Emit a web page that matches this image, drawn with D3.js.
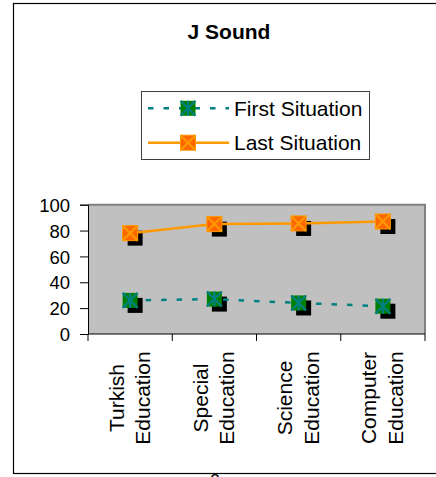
<!DOCTYPE html>
<html><head><meta charset="utf-8">
<script src="https://cdn.jsdelivr.net/npm/d3@7"></script>
<style>body{margin:0;background:#fff;overflow:hidden}svg{display:block;font-family:"Liberation Sans",Arial,sans-serif}</style>
</head><body>
<svg id="c" width="436" height="477"></svg>
<script>
const categories = [["Turkish","Education"],["Special","Education"],["Science","Education"],["Computer","Education"]];
const catKeys = categories.map(c => c.join(" "));
const firstSituation = [26, 27, 24, 21.5];
const lastSituation = [78, 85, 85.5, 87];
const yTicks = [0, 20, 40, 60, 80, 100];
const seriesNames = ["First Situation", "Last Situation"];

const svg = d3.select("#c");
// outer frame
svg.append("rect").attr("x",13.5).attr("y",3.5).attr("width",440).attr("height",470)
  .attr("fill","#fff").attr("stroke","#000").attr("stroke-width",1.2);
// page number peeking below the frame
svg.append("text").attr("x",215).attr("y",486).attr("text-anchor","middle").attr("font-size",17).text("2");

svg.append("text").attr("x",229).attr("y",38.5).attr("text-anchor","middle")
  .attr("font-weight","bold").attr("font-size",21).text("J Sound");

const L=88, R=425, T=204.7, B=334;
const x = d3.scaleBand().domain(catKeys).range([L,R]);
const y = d3.scaleLinear().domain([0,100]).range([B,T]);

svg.append("rect").attr("x",L).attr("y",T).attr("width",R-L).attr("height",B-T).attr("fill","#c0c0c0");
svg.append("path").attr("d",`M${L},${T}H${R}V${B}`).attr("fill","none").attr("stroke","#808080").attr("stroke-width",2);

// y axis
const yAxis = svg.append("g").attr("transform",`translate(${L},0)`)
  .call(d3.axisLeft(y).tickValues(yTicks).tickSize(8).tickPadding(10));
yAxis.select(".domain").attr("stroke","#000");
yAxis.selectAll("text").attr("font-size",18.5).attr("font-family","Liberation Sans, Arial, sans-serif").attr("fill","#000").attr("dy","0.36em");
yAxis.selectAll("line").attr("stroke","#000");

// x axis line and ticks at band boundaries
const bounds = catKeys.map(k => x(k)).concat([R]);
svg.append("line").attr("x1",L).attr("x2",R).attr("y1",B).attr("y2",B).attr("stroke","#000");
svg.selectAll(".xt").data(bounds).join("line").attr("x1",d=>d).attr("x2",d=>d)
  .attr("y1",B).attr("y2",B+7).attr("stroke","#000");

// category labels
categories.forEach((c,i) => {
  const cx = x(catKeys[i]) + x.bandwidth()/2;
  const g = svg.append("g").attr("transform",`translate(${cx},398) rotate(-90)`);
  c.forEach((line,j) => {
    g.append("text").attr("x",0).attr("y",[-6.5,20][j]).attr("text-anchor","middle")
      .attr("font-size",21).text(line);
  });
});

const cxOf = i => x(catKeys[i]) + x.bandwidth()/2;
const lineGen = d3.line().x((d,i)=>cxOf(i)).y(d=>y(d));

const S = 15;
function markerFirst(g, cx, cy) {
  g.append("rect").attr("x",cx-S/2).attr("y",cy-S/2).attr("width",S).attr("height",S).attr("fill","#008000");
  const h=S/2;
  g.append("path").attr("d",`M${cx-h},${cy-h}L${cx+h},${cy+h}M${cx+h},${cy-h}L${cx-h},${cy+h}M${cx},${cy-h}V${cy+h}`)
    .attr("stroke","#008080").attr("stroke-width",2.2);
}
function markerLast(g, cx, cy) {
  g.append("rect").attr("x",cx-S/2).attr("y",cy-S/2).attr("width",S).attr("height",S).attr("fill","#ff6600")
    .attr("stroke","#ff9900").attr("stroke-width",1);
  const h=S/2;
  g.append("path").attr("d",`M${cx-h},${cy-h}L${cx+h},${cy+h}M${cx+h},${cy-h}L${cx-h},${cy+h}`)
    .attr("stroke","#ff9900").attr("stroke-width",2.2);
}

// shadows
const shadows = svg.append("g");
[firstSituation, lastSituation].forEach(arr => {
  arr.forEach((v,i) => {
    shadows.append("rect").attr("x",cxOf(i)-S/2+5).attr("y",y(v)-S/2+5).attr("width",S).attr("height",S).attr("fill","#000");
  });
});

svg.append("path").datum(lastSituation).attr("d",lineGen).attr("fill","none").attr("stroke","#ff9900").attr("stroke-width",2.5);
svg.append("path").datum(firstSituation).attr("d",lineGen).attr("fill","none").attr("stroke","#008080").attr("stroke-width",2.5).attr("stroke-dasharray","5.5 10");

const mk = svg.append("g");
firstSituation.forEach((v,i)=>markerFirst(mk, cxOf(i), y(v)));
lastSituation.forEach((v,i)=>markerLast(mk, cxOf(i), y(v)));

// legend
const lg = svg.append("g");
lg.append("rect").attr("x",141.5).attr("y",91.5).attr("width",228).attr("height",68).attr("fill","#fff").attr("stroke","#404040").attr("stroke-width",1);
const ly = [108.3, 142.7];
lg.append("line").attr("x1",148).attr("x2",229).attr("y1",ly[0]).attr("y2",ly[0]).attr("stroke","#008080").attr("stroke-width",2.5).attr("stroke-dasharray","5.5 10");
markerFirst(lg, 188, ly[0]);
lg.append("line").attr("x1",148).attr("x2",229).attr("y1",ly[1]).attr("y2",ly[1]).attr("stroke","#ff9900").attr("stroke-width",2.5);
markerLast(lg, 188, ly[1]);
seriesNames.forEach((n,i)=>{
  lg.append("text").attr("x",234).attr("y",ly[i]+7.5).attr("font-size",21).text(n);
});
</script>
</body></html>
